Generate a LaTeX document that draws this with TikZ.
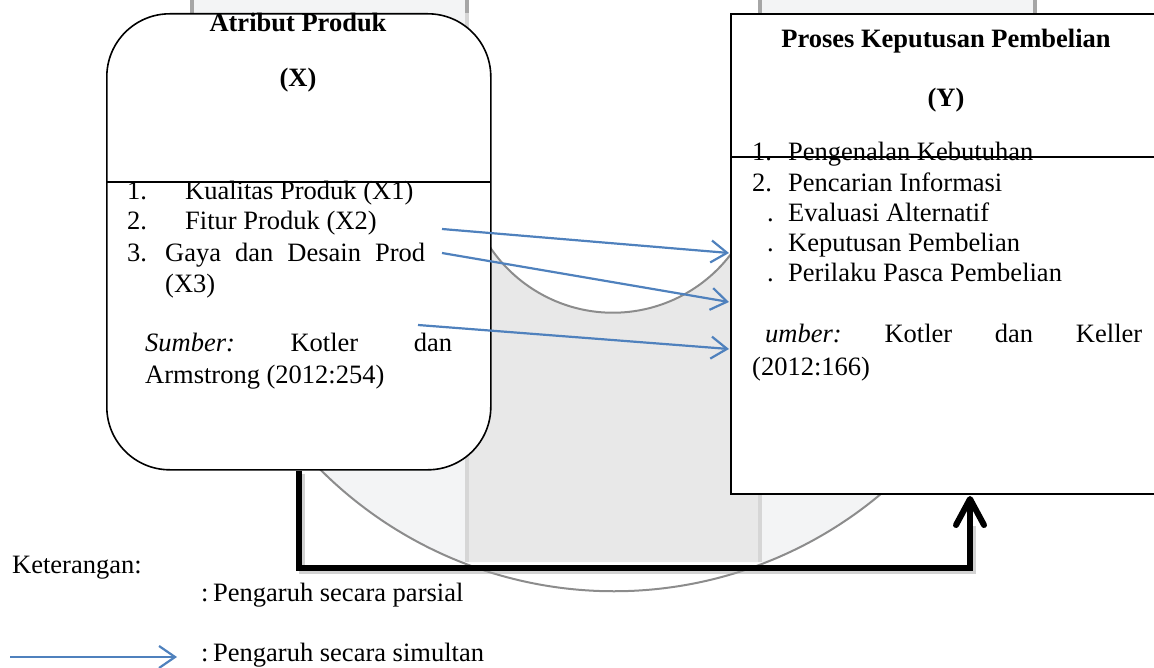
\documentclass[tikz,border=0pt]{standalone}
\usepackage{fontspec}
\setmainfont{Liberation Serif}
\usetikzlibrary{arrows.meta,calc}
\definecolor{arrblue}{RGB}{79,129,189}
\definecolor{colA}{RGB}{243,244,245}
\definecolor{colB}{RGB}{232,232,232}
\definecolor{barDark}{RGB}{166,166,166}
\definecolor{barLight}{RGB}{214,214,214}
\definecolor{arcgray}{RGB}{140,140,140}
\frenchspacing
\begin{document}
\begin{tikzpicture}[x=1pt,y=-1pt,
  txt/.style={inner sep=0pt, anchor=base west, font=\fontsize{26.5}{30}\selectfont},
  ttl/.style={inner sep=0pt, anchor=base, font=\fontsize{26.5}{30}\selectfont\bfseries},
  boxline/.style={draw=black, line width=1.6pt, fill=white},
  bluearrow/.style={draw=arrblue, line width=2.2pt, -{Straight Barb[length=16pt,width=22pt]}},
  conn/.style={draw=black, line width=6pt, -{Straight Barb[length=26pt,width=28pt,round]}},
  arcline/.style={draw=arcgray, line width=2pt},
  bardark/.style={draw=barDark, line width=3.5pt},
  barlight/.style={draw=barLight, line width=4pt}
]
\useasboundingbox (0,0) rectangle (1154,668);
\clip (0,0) rectangle (1154,668);

% background columns
\begin{scope}
  \clip (150,-10) -- (150,176) -- (199,176) arc[start angle=180, end angle=0, radius=415] -- (1080,176) -- (1080,-10) -- cycle;
  \clip (0,0) rectangle (1154,562);
  \fill[colA] (192,0) rectangle (467,562);
  \fill[colA] (760,0) rectangle (1035,562);
\end{scope}
\fill[colB] (467,562) -- (467,189) arc[start angle=170.6, end angle=6.7, radius=148] -- (760,562) -- cycle;
\draw[barlight] (467,0) -- (467,562);
\draw[barlight] (760,0) -- (760,562);
\foreach \bx in {192,467,760,1035}{\draw[bardark] (\bx,0) -- (\bx,13);}
\draw[arcline] (470,203) arc[start angle=165, end angle=15, radius=148];
\draw[arcline] (296,443) arc[start angle=140, end angle=45, radius=415];

% boxes
\node[boxline, rounded corners=63pt, minimum width=384pt, minimum height=456pt, anchor=north west] (X) at (106,13) {};
\node[boxline, minimum width=432pt, minimum height=480pt, anchor=north west] (Y) at (730,13) {};
\draw[line width=1.4pt] (106,182) -- (490,182);

% left texts
\node[ttl] (xt) at (298,32) {Atribut Produk};
\node[ttl] (xv) at (298,87) {(X)};
\node[txt] (x1n) at (127,200) {1.};
\node[txt] (x1) at (185,200) {Kualitas Produk (X1)};
\node[txt] (x2n) at (127,230) {2.};
\node[txt] (x2) at (185,230) {Fitur Produk (X2)};
\node[txt] (x3n) at (127,262) {3.};
\node[txt] (x3) at (165,262) {\makebox[260pt][s]{Gaya dan Desain Prod}};
\node[txt] (x3b) at (165,293) {(X3)};
\node[txt] (xs1) at (145,352) {\makebox[307pt][s]{\textit{Sumber:} Kotler dan}};
\node[txt] (xs2) at (145,383) {Armstrong (2012:254)};

% right texts
\node[ttl] (yt) at (946,48) {Proses Keputusan Pembelian};
\node[ttl] (yv) at (946,107) {(Y)};
\node[txt] (y1n) at (752,161) {1.};
\node[txt] (y1) at (788,161) {Pengenalan Kebutuhan};
\node[txt] (y2n) at (752,192) {2.};
\node[txt] (y2) at (788,192) {Pencarian Informasi};
\node[txt] (y3n) at (767,222) {.};
\node[txt] (y3) at (788,222) {Evaluasi Alternatif};
\node[txt] (y4n) at (767,252) {.};
\node[txt] (y4) at (788,252) {Keputusan Pembelian};
\node[txt] (y5n) at (767,282) {.};
\node[txt] (y5) at (788,282) {Perilaku Pasca Pembelian};
\node[txt] (ys1) at (765,342) {\makebox[377pt][s]{\textit{umber:} Kotler dan Keller}};
\node[txt] (ys2) at (752,375) {(2012:166)};
\draw[line width=1.4pt] (730,157) -- (1160,157);

% blue arrows
\coordinate (a1s) at (442,229); \coordinate (a1e) at (729,253);
\coordinate (a2s) at (442,253); \coordinate (a2e) at (729,302);
\coordinate (a3s) at (418,325); \coordinate (a3e) at (729,349);
\draw[bluearrow] (a1s) -- (a1e);
\draw[bluearrow] (a2s) -- (a2e);
\draw[bluearrow] (a3s) -- (a3e);

% black connector
\coordinate (yin) at (970,496);
\draw[black!35, line width=6pt, opacity=.5] ($(X.south)+(3,3)$) -- ++(0,97) -| ($(yin)+(3,30)$);
\draw[conn] (X.south) -- ++(0,97) -| (yin);

% legend
\node[txt] (kt) at (12,573) {Keterangan:};
\node[txt] (c1) at (201,601) {:};
\node[txt] (l1) at (213,601) {Pengaruh secara parsial};
\coordinate (lg1) at (10,657); \coordinate (lg2) at (177,657);
\draw[bluearrow] (lg1) -- (lg2);
\node[txt] (c2) at (201,661) {:};
\node[txt] (l2) at (213,661) {Pengaruh secara simultan};
\end{tikzpicture}
\end{document}
